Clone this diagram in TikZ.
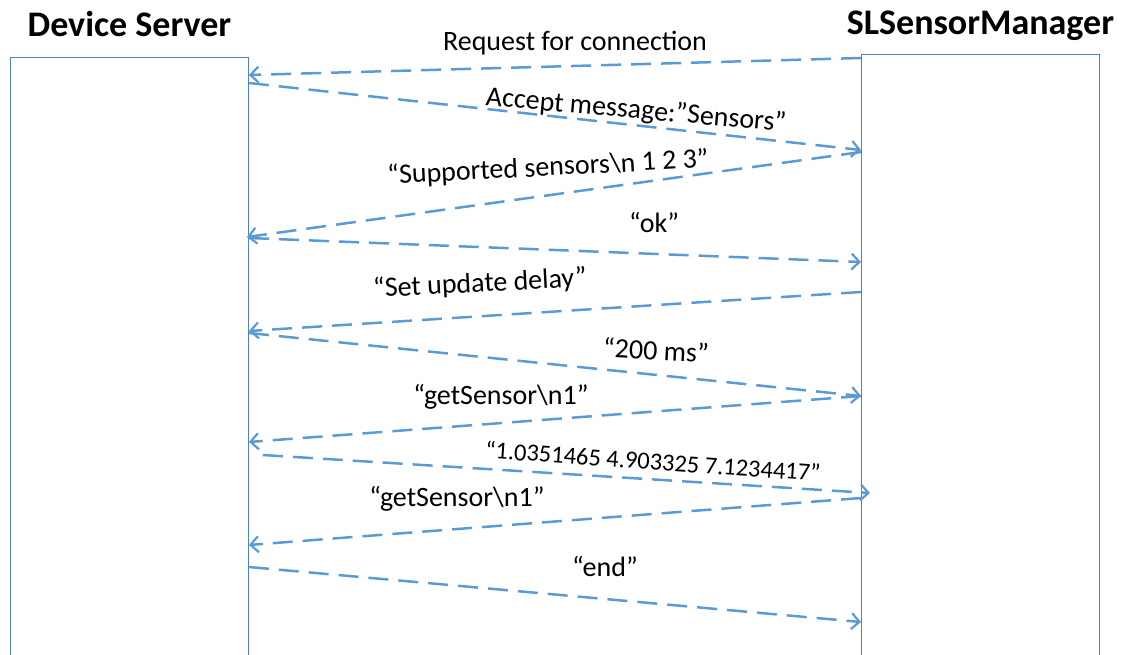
\documentclass[tikz,border=0pt]{standalone}
\usepackage{fontspec}
\setmainfont{Carlito}
\definecolor{boxblue}{RGB}{79,129,189}
\definecolor{msgblue}{RGB}{91,155,213}
\usetikzlibrary{positioning, arrows.meta}

\begin{document}
\begin{tikzpicture}[x=1pt, y=-1pt,
  lifeline/.style={draw=boxblue, line width=0.9pt, minimum width=238pt, minimum height=620pt, anchor=north west, inner sep=0pt},
  title/.style={font=\fontsize{36}{40}\selectfont\bfseries, inner sep=0pt, anchor=base},
  msg/.style={draw=msgblue, line width=2.5pt, dash pattern=on 20pt off 10pt, -{Straight Barb[length=8pt, width=16pt, line width=2.2pt]}},
  lbl/.style={font=\fontsize{28}{31}\selectfont, inner sep=1pt}]

\useasboundingbox (0,0) rectangle (1123,655);

% --- Lifelines ---
\node[lifeline] (srv) at (10,57) {};
\node[lifeline] (mgr) at (861,54) {};
\node[title] (srvtitle) at ([yshift=20]srv.north) {Device Server};
\node[title] (mgrtitle) at ([yshift=19]mgr.north) {SLSensorManager};

% --- Messages ---
% 1. connection request
\draw[msg] ([yshift=-4]mgr.north west) -- ([yshift=-18]srv.north east);
\node[lbl] (m1) at (575,43) {Request for connection};

% 2. accept
\draw[msg] ([yshift=-26]srv.north east) -- ([yshift=-96]mgr.north west);
\node[lbl, rotate=-5] (m2) at (636,111) {Accept message:”Sensors”};

% 3. supported sensors
\draw[msg] ([yshift=-98]mgr.north west) -- ([xshift=-2, yshift=-180]srv.north east);
\node[lbl, rotate=3] (m3) at (548,168) {“Supported sensors\textbackslash n 1 2 3”};

% 4. ok
\draw[msg] ([yshift=-181]srv.north east) -- ([yshift=-208]mgr.north west);
\node[lbl] (m4) at (654,222) {“ok”};

% 5. update delay
\draw[msg] ([yshift=-238]mgr.north west) -- ([yshift=-274]srv.north east);
\node[lbl, rotate=3] (m5) at (480,284) {“Set update delay”};

% 6. 200 ms
\draw[msg] ([yshift=-276]srv.north east) -- ([yshift=-342]mgr.north west);
\node[lbl, rotate=-3] (m6) at (656,350) {“200 ms”};

% 7. getSensor
\draw[msg] ([yshift=-342]mgr.north west) -- ([yshift=-385]srv.north east);
\node[lbl] (m7) at (501,397) {“getSensor\textbackslash n1”};

% 8. sensor values
\draw[msg] ([xshift=14, yshift=-398]srv.north east) -- ([xshift=9, yshift=-439]mgr.north west);
\node[lbl, font=\fontsize{24.5}{27}\selectfont, rotate=-4] (m8) at (653,461) {“1.0351465 4.903325 7.1234417”};

% 9. getSensor again
\draw[msg] ([yshift=-444]mgr.north west) -- ([yshift=-488]srv.north east);
\node[lbl] (m9) at (457,499) {“getSensor\textbackslash n1”};

% 10. end
\draw[msg] ([yshift=-510]srv.north east) -- ([yshift=-568]mgr.north west);
\node[lbl] (m10) at (605,566) {“end”};

\end{tikzpicture}
\end{document}
